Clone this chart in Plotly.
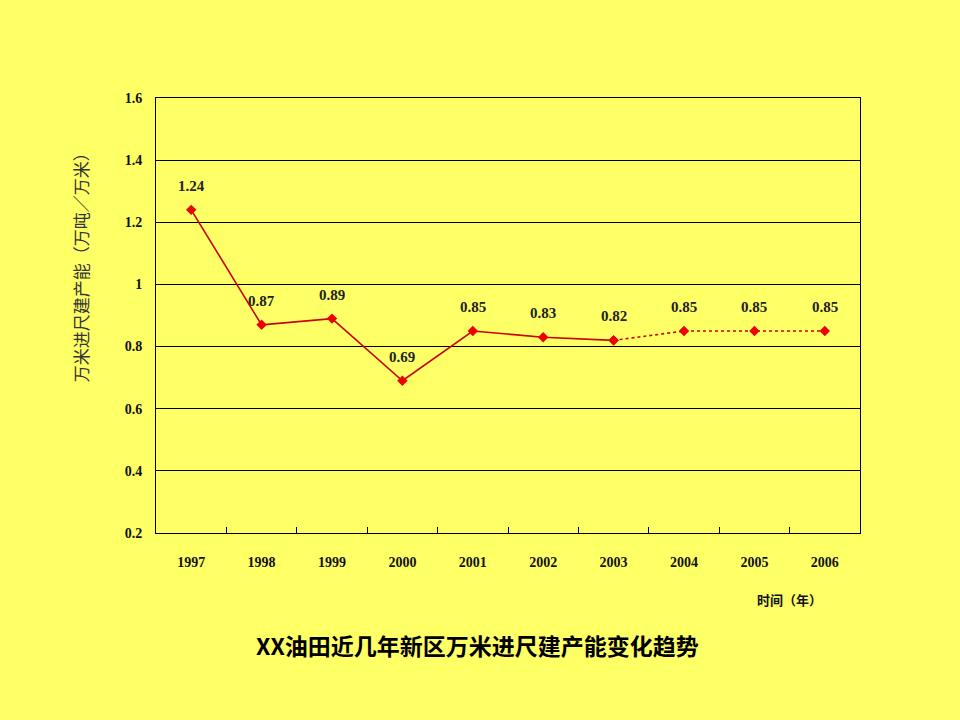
import plotly.graph_objects as go

years = ["1997", "1998", "1999", "2000", "2001", "2002", "2003", "2004", "2005", "2006"]
values = [1.24, 0.87, 0.89, 0.69, 0.85, 0.83, 0.82, 0.85, 0.85, 0.85]
labels = ["1.24", "0.87", "0.89", "0.69", "0.85", "0.83", "0.82", "0.85", "0.85", "0.85"]
actual_end = 7  # 1997-2003 solid, after that dotted forecast

bg = "#FFFF66"
serif = "Liberation Serif"
cjk = "Noto Sans CJK SC"

fig = go.Figure()

fig.add_trace(go.Scatter(
    x=years[:actual_end], y=values[:actual_end],
    mode="lines+markers",
    line=dict(color="#CC0000", width=1.6),
    marker=dict(symbol="diamond", size=8, color="#EE0000"),
))
fig.add_trace(go.Scatter(
    x=years[actual_end - 1:], y=values[actual_end - 1:],
    mode="lines+markers",
    line=dict(color="#CC0000", width=1.6, dash="dot"),
    marker=dict(symbol="diamond", size=8, color="#EE0000"),
))

# point labels (x as category index)
for i, (v, t) in enumerate(zip(values, labels)):
    fig.add_annotation(x=i, y=v, text=t, showarrow=False, yshift=24,
                       font=dict(family=serif, size=15, color="#222222", weight="bold"))

fig.add_annotation(text="万米进尺建产能（万吨／万米）", xref="paper", yref="paper",
                   x=-0.108, y=0.62, xanchor="center", yanchor="middle",
                   textangle=-90, showarrow=False,
                   font=dict(family=cjk, size=17, color="#333333"))
fig.add_annotation(text="时间（年）", xref="paper", yref="paper",
                   x=0.90, y=-0.154, xanchor="center", yanchor="middle", showarrow=False,
                   font=dict(family=cjk, size=13, color="#111111", weight="bold"))
fig.add_annotation(text="XX油田近几年新区万米进尺建产能变化趋势", xref="paper", yref="paper",
                   x=0.457, y=-0.257, xanchor="center", yanchor="middle", showarrow=False,
                   font=dict(family=cjk, size=23, color="#000000", weight="bold"))

fig.update_xaxes(
    type="category", range=[-0.5, len(years) - 0.5],
    tickson="boundaries", ticks="inside", ticklen=6,
    tickcolor="black", showline=True, linecolor="black", linewidth=1, mirror=True,
    showgrid=False, ticklabelstandoff=16,
    tickfont=dict(family=serif, size=14, color="#111111", weight="bold"),
)
fig.update_yaxes(
    range=[0.2, 1.6], dtick=0.2, showgrid=True, gridcolor="black", gridwidth=1,
    showline=True, linecolor="black", linewidth=1, mirror=True, ticks="",
    zeroline=False, ticklabelstandoff=10,
    tickfont=dict(family=serif, size=14, color="#111111", weight="bold"),
)

fig.update_layout(
    width=960, height=720,
    paper_bgcolor=bg, plot_bgcolor=bg,
    showlegend=False,
    margin=dict(l=156, r=100, t=98, b=187),
)

fig.write_html("out.html", config={"displayModeBar": False},
               post_script="document.body.style.margin='0';")
